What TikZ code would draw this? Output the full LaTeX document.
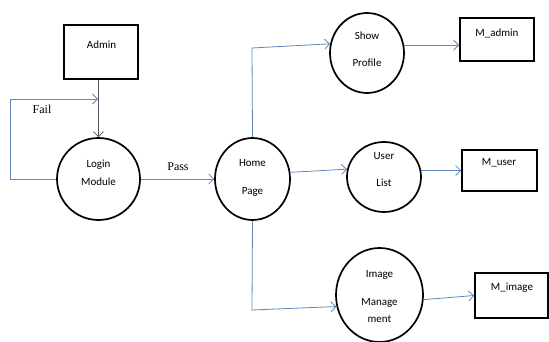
\documentclass[tikz,border=0pt]{standalone}
\usepackage{fontspec}
\setmainfont{Carlito}
\newfontfamily\serifrm{Liberation Serif}
\usetikzlibrary{shapes.geometric,arrows.meta}
\definecolor{flowblue}{RGB}{95,135,185}
\definecolor{flowgray}{RGB}{85,85,95}
\tikzset{
  proc/.style={draw=black,line width=1.7pt,ellipse,inner sep=0pt},
  store/.style={draw=black,line width=1.7pt,rectangle,inner sep=0pt},
  lbl/.style={font=\fontsize{11}{13}\selectfont,inner sep=0pt},
  flbl/.style={font=\serifrm\fontsize{12}{14}\selectfont,inner sep=0pt},
  flow/.style={draw=flowblue,line width=0.8pt,-{Straight Barb[length=5pt,width=10pt]}},
  grayflow/.style={draw=flowgray,line width=0.8pt,-{Straight Barb[length=5pt,width=10pt]}}
}
\begin{document}
\begin{tikzpicture}[x=1pt,y=-1pt]
\useasboundingbox (0,0) rectangle (549,342);
% stores
\node[store,minimum width=74pt,minimum height=54pt] (admin) at (101,52) {};
\node[lbl] at (101.5,45) {Admin};
\node[store,minimum width=74pt,minimum height=43pt] (madmin) at (497,39.5) {};
\node[lbl] at (497,33) {M\_admin};
\node[store,minimum width=75pt,minimum height=41pt] (muser) at (499.5,170.5) {};
\node[lbl] at (499,163) {M\_user};
\node[store,minimum width=73pt,minimum height=45pt] (mimage) at (511.5,295.5) {};
\node[lbl] at (512,288) {M\_image};
% processes
\node[proc,minimum width=83pt,minimum height=82pt] (login) at (98.5,179) {};
\node[lbl] at (98.5,165) {Login};
\node[lbl] at (98.5,182) {Module};
\node[proc,minimum width=75pt,minimum height=82pt] (home) at (252.5,179) {};
\node[lbl] at (252.5,163) {Home};
\node[lbl] at (252.5,192) {Page};
\node[proc,minimum width=74pt,minimum height=80pt] (show) at (367,53) {};
\node[lbl] at (367,36) {Show};
\node[lbl] at (367,63) {Profile};
\node[proc,minimum width=74pt,minimum height=70pt] (user) at (384,177) {};
\node[lbl] at (384,156) {User};
\node[lbl] at (384,183) {List};
\node[proc,minimum width=87pt,minimum height=94pt] (img) at (379.5,295) {};
\node[lbl] at (379.5,275) {Image};
\node[lbl] at (379.5,303) {Manage};
\node[lbl] at (379.5,319) {ment};
% flow labels
\node[flbl] at (42,109) {Fail};
\node[flbl] at (178,167) {Pass};
% coordinates
\coordinate (failend) at (98,99);
\coordinate (topbend) at (252,48);
\coordinate (botbend) at (252,310);
% connectors
\draw[grayflow] (admin.south -| login.north) -- (login.north);
\draw[flow] (login.west) -- ++(-46,0) |- (failend);
\draw[flow] (login.east) -- (home.west);
\draw[flow] (home.north) -- (topbend) -- (show.166);
\draw[flow] (home.10) -- (user.168);
\draw[flow] (home.south) -- (botbend) -- (img.195);
\draw[flow] (show.12) -- (show.12 -| madmin.west);
\draw[flow] (user.10) -- (user.10 -| muser.west);
\draw[flow] (img.354) -- (mimage.west);
\end{tikzpicture}
\end{document}
